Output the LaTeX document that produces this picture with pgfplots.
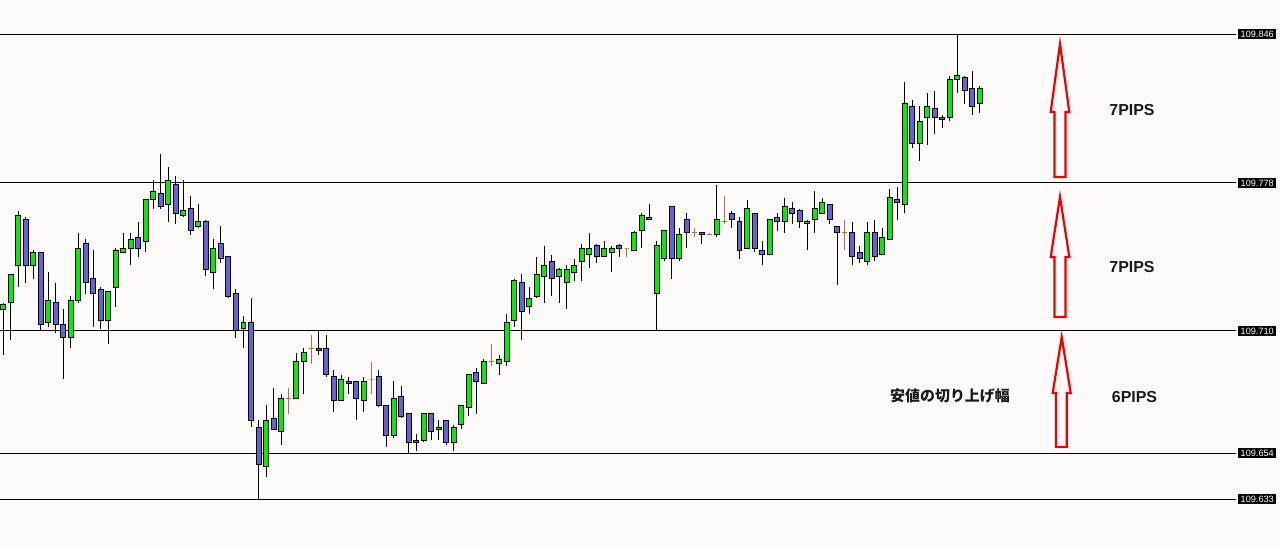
\documentclass[border=0pt]{standalone}
\usepackage{pgfplots}
\pgfplotsset{compat=1.18}
\usepackage{pgfplotstable}
\usepackage{fontspec}
\setmainfont{Liberation Sans}
\newfontfamily\jp{Noto Sans CJK JP}

\definecolor{bg}{RGB}{255,250,250}
\definecolor{bull}{RGB}{0,240,0}
\definecolor{bear}{RGB}{100,98,218}
\definecolor{doji}{RGB}{176,112,64}
\definecolor{arrowred}{RGB}{236,0,0}

% USDJPY 1-min candles: x open high low close
\pgfplotstableread{
x o h l c
0 109.720 109.723 109.699 109.722
1 109.723 109.736 109.706 109.736
2 109.740 109.765 109.730 109.763
3 109.761 109.762 109.732 109.740
4 109.740 109.747 109.734 109.746
5 109.746 109.746 109.710 109.713
6 109.714 109.737 109.712 109.724
7 109.723 109.732 109.709 109.713
8 109.713 109.720 109.688 109.707
9 109.707 109.726 109.702 109.724
10 109.724 109.755 109.723 109.748
11 109.750 109.752 109.727 109.732
12 109.734 109.747 109.712 109.727
13 109.729 109.730 109.711 109.715
14 109.715 109.728 109.704 109.728
15 109.730 109.748 109.721 109.747
16 109.746 109.755 109.746 109.748
17 109.748 109.755 109.740 109.752
18 109.753 109.760 109.744 109.748
19 109.751 109.770 109.746 109.770
20 109.770 109.779 109.766 109.774
21 109.773 109.791 109.766 109.767
22 109.768 109.785 109.760 109.779
23 109.777 109.781 109.759 109.764
24 109.763 109.779 109.762 109.765
25 109.766 109.772 109.754 109.756
26 109.758 109.768 109.757 109.760
27 109.760 109.761 109.735 109.738
28 109.737 109.752 109.729 109.748
29 109.750 109.758 109.741 109.743
30 109.744 109.744 109.725 109.726
31 109.727 109.729 109.707 109.710
32 109.711 109.717 109.702 109.714
33 109.714 109.725 109.666 109.669
34 109.666 109.669 109.633 109.649
35 109.648 109.676 109.643 109.669
36 109.670 109.684 109.665 109.665
37 109.664 109.681 109.658 109.679
38 109.679 109.684 109.672 109.679
39 109.679 109.700 109.679 109.696
40 109.696 109.702 109.681 109.700
41 109.702 109.708 109.695 109.702
42 109.702 109.710 109.699 109.701
43 109.702 109.708 109.689 109.690
44 109.689 109.692 109.673 109.678
45 109.678 109.690 109.678 109.688
46 109.687 109.689 109.681 109.686
47 109.687 109.687 109.669 109.679
48 109.678 109.689 109.673 109.687
49 109.688 109.696 109.681 109.688
50 109.689 109.692 109.675 109.676
51 109.676 109.676 109.657 109.662
52 109.662 109.687 109.661 109.679
53 109.680 109.685 109.670 109.671
54 109.672 109.672 109.654 109.659
55 109.660 109.663 109.655 109.659
56 109.660 109.672 109.659 109.672
57 109.672 109.672 109.660 109.664
58 109.665 109.669 109.660 109.666
59 109.669 109.669 109.658 109.659
60 109.659 109.667 109.655 109.666
61 109.667 109.676 109.665 109.676
62 109.675 109.690 109.671 109.690
63 109.691 109.693 109.672 109.687
64 109.686 109.697 109.686 109.696
65 109.696 109.704 109.694 109.696
66 109.695 109.699 109.690 109.697
67 109.696 109.718 109.694 109.714
68 109.715 109.734 109.712 109.733
69 109.732 109.736 109.706 109.719
70 109.721 109.730 109.718 109.725
71 109.726 109.744 109.725 109.736
72 109.735 109.749 109.723 109.740
73 109.742 109.745 109.726 109.734
74 109.735 109.739 109.723 109.738
75 109.732 109.740 109.720 109.738
76 109.737 109.743 109.733 109.740
77 109.742 109.750 109.733 109.748
78 109.745 109.755 109.739 109.748
79 109.749 109.750 109.741 109.744
80 109.744 109.751 109.744 109.748
81 109.746 109.749 109.737 109.748
82 109.749 109.750 109.744 109.748
83 109.748 109.748 109.744 109.748
84 109.747 109.756 109.747 109.755
85 109.756 109.764 109.748 109.763
86 109.762 109.768 109.761 109.761
87 109.727 109.751 109.710 109.749
88 109.743 109.756 109.742 109.756
89 109.767 109.767 109.734 109.743
90 109.743 109.757 109.742 109.754
91 109.761 109.764 109.748 109.755
92 109.755 109.757 109.753 109.755
93 109.755 109.755 109.750 109.754
94 109.754 109.755 109.754 109.754
95 109.754 109.777 109.753 109.761
96 109.760 109.772 109.759 109.760
97 109.764 109.765 109.757 109.761
98 109.760 109.762 109.743 109.747
99 109.748 109.770 109.748 109.766
100 109.764 109.764 109.746 109.748
101 109.747 109.751 109.740 109.745
102 109.745 109.761 109.745 109.761
103 109.762 109.764 109.756 109.760
104 109.760 109.771 109.755 109.767
105 109.766 109.769 109.759 109.764
106 109.765 109.766 109.757 109.760
107 109.759 109.761 109.747 109.760
108 109.761 109.774 109.755 109.766
109 109.764 109.771 109.764 109.769
110 109.768 109.768 109.759 109.761
111 109.758 109.758 109.731 109.755
112 109.755 109.761 109.747 109.755
113 109.755 109.760 109.740 109.744
114 109.746 109.749 109.741 109.743
115 109.742 109.760 109.740 109.755
116 109.755 109.761 109.742 109.744
117 109.745 109.757 109.745 109.753
118 109.752 109.775 109.752 109.771
119 109.770 109.776 109.761 109.769
120 109.768 109.824 109.764 109.814
121 109.813 109.816 109.794 109.796
122 109.796 109.813 109.788 109.806
123 109.808 109.819 109.795 109.813
124 109.812 109.820 109.800 109.808
125 109.808 109.809 109.803 109.807
126 109.808 109.827 109.806 109.825
127 109.825 109.846 109.819 109.827
128 109.826 109.827 109.814 109.820
129 109.821 109.829 109.809 109.813
130 109.814 109.822 109.810 109.821
}\candles

\pgfplotsset{
  bullc/.style={draw=black, fill=bull, line width=1bp},
  bearc/.style={draw=black, fill=bear, line width=1bp},
  dojic/.style={draw=doji, fill=doji, line width=1bp},
  level/.style={black, line width=1bp},
}

\begin{document}
\begin{tikzpicture}[x=1bp, y=1bp]
\fill[bg] (0,0) rectangle (1280,548);
\begin{axis}[
  at={(0,0)}, anchor=south west,
  width=1236bp, height=548bp, scale only axis,
  xmin=-0.4, xmax=164.07,
  ymin=109.6106, ymax=109.8616,
  hide axis,
]
\addplot[white, line width=1bp] coordinates {(-1,109.821) (170,109.821)};
\addplot[level] coordinates {(-1,109.846) (170,109.846)};
\addplot[level] coordinates {(-1,109.778) (170,109.778)};
\addplot[level] coordinates {(-1,109.710) (170,109.710)};
\addplot[level] coordinates {(-1,109.654) (170,109.654)};
\addplot[level] coordinates {(-1,109.633) (170,109.633)};

\pgfplotsinvokeforeach{0,...,130}{
  \pgfplotstablegetelem{#1}{o}\of\candles \let\co\pgfplotsretval
  \pgfplotstablegetelem{#1}{h}\of\candles \let\ch\pgfplotsretval
  \pgfplotstablegetelem{#1}{l}\of\candles \let\cl\pgfplotsretval
  \pgfplotstablegetelem{#1}{c}\of\candles \let\cc\pgfplotsretval
  \ifdim\cc pt>\co pt
    \def\ccol{bullc}\def\wcol{black}\let\cmin\co\let\cmax\cc
  \else
    \let\cmin\cc\let\cmax\co
    \ifdim\cc pt<\co pt \def\ccol{bearc}\def\wcol{black}\else\def\ccol{dojic}\def\wcol{doji}\fi
  \fi
  \pgfmathsetmacro\xa{#1-0.33}
  \pgfmathsetmacro\xb{#1+0.33}
  \edef\drawcandle{%
    \noexpand\addplot[draw=\wcol, line width=1bp] coordinates {(#1,\cl) (#1,\ch)};
    \noexpand\addplot[\ccol] coordinates {(\xa,\cmin) (\xb,\cmin) (\xb,\cmax) (\xa,\cmax)} -- cycle;}
  \drawcandle
}
\end{axis}

% annotations in pixel coordinates (y downwards)
\begin{scope}[shift={(0,548)}, yscale=-1]
  \foreach \yy/\lab in {34/109.846, 183/109.778, 331/109.710, 453/109.654, 499/109.633}{
    \node[fill=black, text=white, anchor=west, inner xsep=2.5bp, inner ysep=1.4bp,
      font=\fontsize{9.2}{10}\selectfont] at (1238,\yy) {\lab};
  }
  \begin{scope}[draw=arrowred, line width=2.2bp, line join=miter, fill=bg]
    \filldraw (1060,44) -- (1069.3,112) -- (1065.5,112) -- (1065.5,177) -- (1054.5,177)
      -- (1054.5,112) -- (1050.7,112) -- cycle;
    \filldraw (1060,197) -- (1069.3,257) -- (1065.5,257) -- (1065.5,317) -- (1054.5,317)
      -- (1054.5,257) -- (1050.7,257) -- cycle;
    \filldraw (1061.7,337) -- (1070.7,393) -- (1066.7,393) -- (1066.7,447) -- (1056,447)
      -- (1056,393) -- (1052.7,393) -- cycle;
  \end{scope}
  \node[font=\fontsize{16}{18}\selectfont\bfseries, text=black!90] at (1132,110) {7PIPS};
  \node[font=\fontsize{16}{18}\selectfont\bfseries, text=black!90] at (1132,267.5) {7PIPS};
  \node[font=\fontsize{16}{18}\selectfont\bfseries, text=black!90] at (1134.5,397.5) {6PIPS};
  \node[font=\jp\fontsize{15}{17}\selectfont\bfseries, text=black!90] at (950,396) {安値の切り上げ幅};
\end{scope}
\end{tikzpicture}
\end{document}
